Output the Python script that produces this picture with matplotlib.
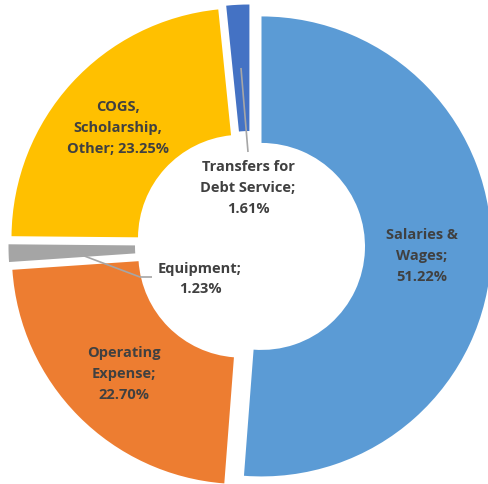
import numpy as np
import matplotlib
matplotlib.use('Agg')
import matplotlib.pyplot as plt

# Budget shares (percent), clockwise from 12 o'clock
categories = ['Salaries &\nWages', 'Operating\nExpense', 'Equipment', 'COGS,\nScholarship,\nOther',
              'Transfers for\nDebt Service']
shares = [51.22, 22.70, 1.23, 23.25, 1.61]
label_text = ['Salaries &\nWages;\n51.22%', 'Operating\nExpense;\n22.70%', 'Equipment;\n1.23%',
              'COGS,\nScholarship,\nOther; 23.25%', 'Transfers for\nDebt Service;\n1.61%']
colors = ['#5B9BD5', '#ED7D31', '#A5A5A5', '#FFC000', '#4472C4']

# pixel layout helpers (center of donut and px per data unit)
CX, CY, SCALE = 250, 246, 230
W, H = 489, 484


def px(x, y):
    return (x - CX) / SCALE, (CY - y) / SCALE


label_px = [(422, 256), (124, 374), (200, 279), (118, 128), (248, 188)]
EXPLODE = 0.05
RING = 0.55

fig = plt.figure(figsize=(W / 100, H / 100), dpi=100)
ax = fig.add_axes([0, 0, 1, 1])
wedges, _ = ax.pie(shares, colors=colors, startangle=90, counterclock=False,
                   explode=[EXPLODE] * len(shares), radius=1,
                   wedgeprops=dict(width=RING, edgecolor='none'))
ax.set_xlim(-CX / SCALE, (W - CX) / SCALE)
ax.set_ylim(-(H - CY) / SCALE, CY / SCALE)
ax.set_aspect('equal')
ax.axis('off')

font = dict(family=['Open Sans', 'DejaVu Sans'], fontweight='bold', fontsize=10.5,
            color='#404040', ha='center', va='center', linespacing=1.6)
for txt, (lx, ly) in zip(label_text, label_px):
    x, y = px(lx, ly)
    ax.text(x, y, txt, **font)

# leader lines for the two small slices
for i, end in [(4, [(248, 152)]), (2, [(140, 277), (152, 277)])]:
    w = wedges[i]
    mid = np.deg2rad((w.theta1 + w.theta2) / 2)
    r = 1 - RING / 2
    sx = w.center[0] + r * np.cos(mid)
    sy = w.center[1] + r * np.sin(mid)
    pts = [(sx, sy)] + [px(*p) for p in end]
    xs, ys = zip(*pts)
    ax.plot(xs, ys, color='#A6A6A6', lw=1.2, solid_capstyle='butt')

plt.savefig('out.png', dpi=100)
plt.close()
